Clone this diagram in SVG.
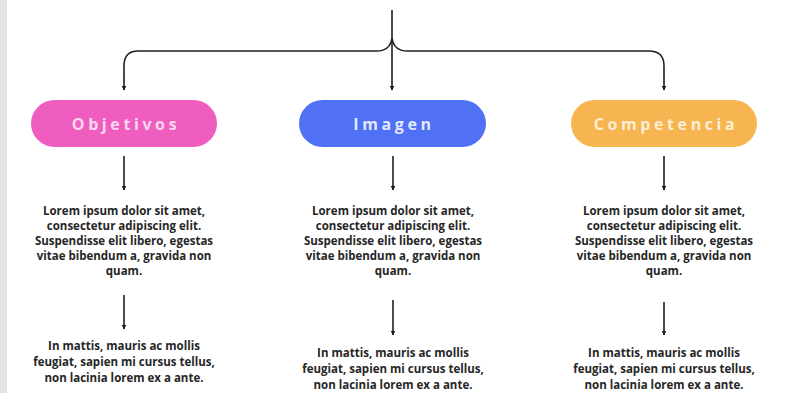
<svg xmlns="http://www.w3.org/2000/svg" width="790" height="393" viewBox="0 0 790 393">
<defs>
<marker id="ah" viewBox="0 0 10 10" refX="9" refY="5" markerWidth="5" markerHeight="6" orient="auto" markerUnits="userSpaceOnUse">
<path d="M0,0 L10,5 L0,10 Z" fill="#1a1a1a"/>
</marker>
</defs>
<style>
.conn{fill:none;stroke:#1f1f1f;stroke-width:1.6}
.pilltxt{font-family:"Open Sans","Liberation Sans",sans-serif;font-weight:700;font-size:16px;letter-spacing:3.6px;text-anchor:middle}
.body{font-family:"Open Sans","Liberation Sans",sans-serif;font-weight:700;font-size:11.5px;fill:#262626;text-anchor:middle}
</style>
<rect x="0" y="0" width="790" height="393" fill="#ffffff"/>
<rect x="0" y="0" width="7" height="393" fill="#e3e3e3"/>
<g id="connectors">
<path class="conn" d="M392,10 V90" marker-end="url(#ah)"/>
<path class="conn" d="M392,38 Q390,51 377,51 H138 Q124,51 124,66 V90" marker-end="url(#ah)"/>
<path class="conn" d="M392,38 Q394,51 407,51 H649 Q664,51 664,66 V90" marker-end="url(#ah)"/>
<path class="conn" d="M124,156 V190" marker-end="url(#ah)"/>
<path class="conn" d="M393,156 V190" marker-end="url(#ah)"/>
<path class="conn" d="M664,156 V190" marker-end="url(#ah)"/>
<path class="conn" d="M124,295 V329" marker-end="url(#ah)"/>
<path class="conn" d="M393,300 V335" marker-end="url(#ah)"/>
<path class="conn" d="M664,302 V335" marker-end="url(#ah)"/>
</g>
<g id="objetivos">
<rect x="31" y="100" width="186" height="47" rx="23.5" fill="#ef5dbf"/>
<text class="pilltxt" x="126" y="130" fill="#fbd6f0">Objetivos</text>
</g>
<g id="imagen">
<rect x="299" y="100" width="187" height="47" rx="23.5" fill="#5070f6"/>
<text class="pilltxt" x="394" y="130" fill="#e2e8ff">Imagen</text>
</g>
<g id="competencia">
<rect x="571" y="100" width="186" height="47" rx="23.5" fill="#f6b550"/>
<text class="pilltxt" x="666" y="130" fill="#fdeed3">Competencia</text>
</g>
<g id="text-objetivos-1">
<text class="body" x="124" y="215"><tspan x="124">Lorem ipsum dolor sit amet,</tspan><tspan x="124" dy="15">consectetur adipiscing elit.</tspan><tspan x="124" dy="15">Suspendisse elit libero, egestas</tspan><tspan x="124" dy="15">vitae bibendum a, gravida non</tspan><tspan x="124" dy="15">quam.</tspan></text>
</g>
<g id="text-imagen-1">
<text class="body" x="393" y="215"><tspan x="393">Lorem ipsum dolor sit amet,</tspan><tspan x="393" dy="15">consectetur adipiscing elit.</tspan><tspan x="393" dy="15">Suspendisse elit libero, egestas</tspan><tspan x="393" dy="15">vitae bibendum a, gravida non</tspan><tspan x="393" dy="15">quam.</tspan></text>
</g>
<g id="text-competencia-1">
<text class="body" x="664" y="215"><tspan x="664">Lorem ipsum dolor sit amet,</tspan><tspan x="664" dy="15">consectetur adipiscing elit.</tspan><tspan x="664" dy="15">Suspendisse elit libero, egestas</tspan><tspan x="664" dy="15">vitae bibendum a, gravida non</tspan><tspan x="664" dy="15">quam.</tspan></text>
</g>
<g id="text-objetivos-2">
<text class="body" x="124" y="350"><tspan x="124">In mattis, mauris ac mollis</tspan><tspan x="124" dy="16">feugiat, sapien mi cursus tellus,</tspan><tspan x="124" dy="16">non lacinia lorem ex a ante.</tspan></text>
</g>
<g id="text-imagen-2">
<text class="body" x="393" y="357"><tspan x="393">In mattis, mauris ac mollis</tspan><tspan x="393" dy="16">feugiat, sapien mi cursus tellus,</tspan><tspan x="393" dy="16">non lacinia lorem ex a ante.</tspan></text>
</g>
<g id="text-competencia-2">
<text class="body" x="664" y="357"><tspan x="664">In mattis, mauris ac mollis</tspan><tspan x="664" dy="16">feugiat, sapien mi cursus tellus,</tspan><tspan x="664" dy="16">non lacinia lorem ex a ante.</tspan></text>
</g>
</svg>
